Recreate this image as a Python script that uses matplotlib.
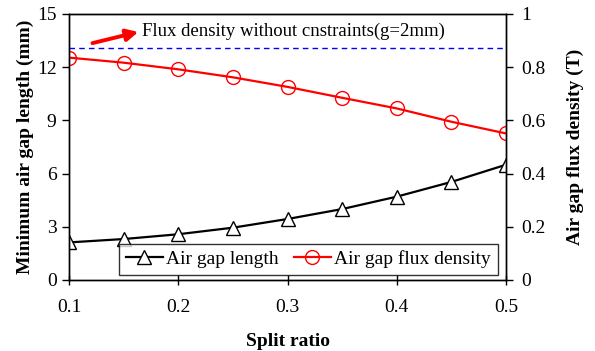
import matplotlib
matplotlib.use("Agg")
import matplotlib.pyplot as plt

split_ratio = [0.1, 0.15, 0.2, 0.25, 0.3, 0.35, 0.4, 0.45, 0.5]
air_gap_length = [2.12, 2.31, 2.58, 2.95, 3.44, 4.00, 4.70, 5.53, 6.50]
flux_density = [0.836, 0.817, 0.792, 0.762, 0.726, 0.685, 0.645, 0.595, 0.551]
flux_unconstrained = 0.873
annot_text = "Flux density without cnstraints(g=2mm)"

plt.rcParams['font.family'] = ['Liberation Serif', 'DejaVu Serif']
plt.rcParams['mathtext.fontset'] = 'stix'

fig = plt.figure(figsize=(5.95, 3.51), dpi=100)
ax = fig.add_axes([69/595, 1-280/351, (506-69)/595, (280-14)/351])
ax2 = ax.twinx()

l1, = ax.plot(split_ratio, air_gap_length, color='black', lw=1.6, marker='^',
              markersize=10, markerfacecolor='white', markeredgecolor='black',
              markeredgewidth=1.0, label='Air gap length')
ax2.plot([split_ratio[0], split_ratio[-1]], [flux_unconstrained]*2, color='blue',
         lw=1.0, ls=(0, (4, 3)))
l2, = ax2.plot(split_ratio, flux_density, color='red', lw=1.6, marker='o',
               markersize=10, markerfacecolor='none', markeredgecolor='red',
               markeredgewidth=1.0, label='Air gap flux density')

ax.set_xlim(0.1, 0.5)
ax.set_ylim(0, 15)
ax2.set_ylim(0, 1)
ax.set_xticks([0.1, 0.2, 0.3, 0.4, 0.5])
ax.set_xticklabels(['0.1', '0.2', '0.3', '0.4', '0.5'])
ax.set_yticks([0, 3, 6, 9, 12, 15])
ax2.set_yticks([0, 0.2, 0.4, 0.6, 0.8, 1.0])
ax2.set_yticklabels(['0', '0.2', '0.4', '0.6', '0.8', '1'])

ax.tick_params(axis='x', direction='inout', length=7, width=1, labelsize=14, pad=10)
ax.tick_params(axis='y', direction='out', length=5, width=1, labelsize=14, pad=4)
ax2.tick_params(axis='y', direction='out', length=5, width=1, labelsize=14, pad=6)
for a in (ax, ax2):
    for s in a.spines.values():
        s.set_linewidth(1.0)

ax.set_xlabel('Split ratio', fontsize=14, fontweight='bold')
ax.xaxis.set_label_coords(0.5, (280-342)/266)
ax.xaxis.label.set_va('center')
ax.set_ylabel('Minimum air gap length (mm)', fontsize=14, fontweight='bold')
ax.yaxis.set_label_coords((25-69)/437, 0.5)
ax.yaxis.label.set_va('center')
ax2.set_ylabel('Air gap flux density (T)', fontsize=14, fontweight='bold')
ax2.yaxis.set_label_coords((575-69)/437, 0.5)
ax2.yaxis.label.set_va('center')

ax2.annotate('', xy=(0.166, 0.935), xytext=(0.119, 0.888),
             arrowprops=dict(arrowstyle='-|>,head_length=0.7,head_width=0.35',
                             color='red', lw=2.8))
ax2.text(0.167, 0.935, annot_text, fontsize=13.5, va='center', ha='left')

leg = ax2.legend(handles=[l1, l2], loc='lower right',
                 bbox_to_anchor=(498/595, 1-275/351),
                 bbox_transform=fig.transFigure, ncol=2,
                 fontsize=14, frameon=True, fancybox=False, borderaxespad=0,
                 handlelength=1.9, handletextpad=0.2, columnspacing=0.75,
                 borderpad=0.35)
leg.get_frame().set_edgecolor('black')
leg.get_frame().set_linewidth(1.0)

fig.savefig('out.png', dpi=100)
